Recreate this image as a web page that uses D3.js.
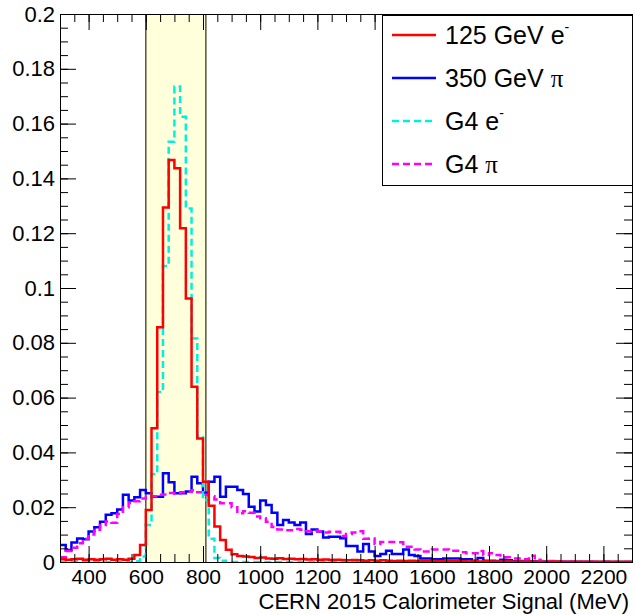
<!DOCTYPE html>
<html>
<head>
<meta charset="utf-8">
<script src="https://cdn.jsdelivr.net/npm/d3@7"></script>
<style>
  body { margin: 0; background: #fff; }
  svg { display: block; }
  text { font-family: "Liberation Sans", Arial, Helvetica, sans-serif; fill: #000; }
</style>
</head>
<body>
<div id="chart"></div>
<script>
// histogram binning: 100 bins of 20 MeV from 300 to 2300
const binEdges = d3.range(300, 2301, 20);

const elec125 = [
  0.0010, 0.0008, 0.0010, 0.0012, 0.0008, 0.0010, 0.0008, 0.0010, 0.0012, 0.0008,
  0.0010, 0.0008, 0.0012, 0.0026, 0.0062, 0.0190, 0.0488, 0.0857, 0.1294, 0.1467,
  0.1437, 0.1218, 0.0962, 0.0640, 0.0451, 0.0293, 0.0205, 0.0130, 0.0080, 0.0045,
  0.0028, 0.0022, 0.0020, 0.0018, 0.0015, 0.0016, 0.0013, 0.0012, 0.0014, 0.0011,
  0.0012, 0.0010, 0.0011, 0.0009, 0.0010, 0.0008, 0.0009, 0.0007, 0.0008, 0.0007,
  0.0006, 0.0007, 0.0006, 0.0005, 0.0006, 0.0005, 0.0006, 0.0005, 0.0004, 0.0005,
  0.0004, 0.0005, 0.0004, 0.0004, 0.0003, 0.0004, 0.0003, 0.0004, 0.0003, 0.0003,
  0.0003, 0.0002, 0.0003, 0.0002, 0.0003, 0.0002, 0.0002, 0.0002, 0.0002, 0.0001,
  0.0002, 0.0001, 0.0002, 0.0001, 0.0001, 0.0001, 0.0002, 0.0001, 0.0001, 0.0001,
  0.0001, 0.0001, 0.0001, 0.0001, 0.0001, 0.0001, 0.0001, 0.0001, 0.0001, 0.0001
];

const pion350 = [
  0.0062, 0.0044, 0.0071, 0.0086, 0.0083, 0.0111, 0.0127, 0.0147, 0.0172, 0.0178,
  0.0192, 0.0245, 0.0224, 0.0236, 0.0263, 0.0251, 0.0238, 0.0238, 0.0324, 0.0291,
  0.0251, 0.0251, 0.0257, 0.0311, 0.0287, 0.0253, 0.0293, 0.0311, 0.0238, 0.0275,
  0.0275, 0.0263, 0.0248, 0.0202, 0.0184, 0.0224, 0.0208, 0.0180, 0.0135, 0.0153,
  0.0144, 0.0135, 0.0144, 0.0102, 0.0119, 0.0111, 0.0089, 0.0092, 0.0092, 0.0087,
  0.0058, 0.0058, 0.0038, 0.0066, 0.0038, 0.0022, 0.0029, 0.0041, 0.0029, 0.0029,
  0.0046, 0.0026, 0.0022, 0.0013, 0.0013, 0.0010, 0.0010, 0.0013, 0.0013, 0.0013,
  0.0010, 0.0010, 0.0005, 0.0015, 0.0005, 0.0005, 0.0004, 0.0008, 0.0006, 0.0003,
  0.0004, 0.0002, 0.0003, 0.0002, 0.0002, 0.0001, 0.0001, 0.0001, 0.0001, 0.0001,
  0.0001, 0.0000, 0.0001, 0.0000, 0.0000, 0.0001, 0.0000, 0.0000, 0.0000, 0.0000
];

const g4Elec = [
  0.0000, 0.0000, 0.0000, 0.0000, 0.0000, 0.0000, 0.0000, 0.0000, 0.0000, 0.0000,
  0.0000, 0.0000, 0.0000, 0.0003, 0.0020, 0.0135, 0.0320, 0.0620, 0.1080, 0.1534,
  0.1735, 0.1625, 0.1290, 0.0816, 0.0460, 0.0226, 0.0085, 0.0015, 0.0005, 0.0000,
  0.0000, 0.0000, 0.0000, 0.0000, 0.0000, 0.0000, 0.0000, 0.0000, 0.0000, 0.0000,
  0.0000, 0.0000, 0.0000, 0.0000, 0.0000, 0.0000, 0.0000, 0.0000, 0.0000, 0.0000,
  0.0000, 0.0000, 0.0000, 0.0000, 0.0000, 0.0000, 0.0000, 0.0000, 0.0000, 0.0000,
  0.0000, 0.0000, 0.0000, 0.0000, 0.0000, 0.0000, 0.0000, 0.0000, 0.0000, 0.0000,
  0.0000, 0.0000, 0.0000, 0.0000, 0.0000, 0.0000, 0.0000, 0.0000, 0.0000, 0.0000,
  0.0000, 0.0000, 0.0000, 0.0000, 0.0000, 0.0000, 0.0000, 0.0000, 0.0000, 0.0000,
  0.0000, 0.0000, 0.0000, 0.0000, 0.0000, 0.0000, 0.0000, 0.0000, 0.0000, 0.0000
];

const g4Pion = [
  0.0017, 0.0040, 0.0052, 0.0068, 0.0085, 0.0100, 0.0118, 0.0135, 0.0148, 0.0143,
  0.0175, 0.0200, 0.0215, 0.0222, 0.0232, 0.0238, 0.0240, 0.0245, 0.0246, 0.0252,
  0.0250, 0.0255, 0.0256, 0.0262, 0.0255, 0.0245, 0.0240, 0.0228, 0.0214, 0.0214,
  0.0200, 0.0178, 0.0185, 0.0180, 0.0166, 0.0160, 0.0147, 0.0128, 0.0119, 0.0116,
  0.0116, 0.0120, 0.0118, 0.0112, 0.0114, 0.0112, 0.0108, 0.0110, 0.0110, 0.0095,
  0.0102, 0.0108, 0.0112, 0.0085, 0.0086, 0.0066, 0.0073, 0.0073, 0.0073, 0.0072,
  0.0056, 0.0056, 0.0046, 0.0038, 0.0038, 0.0046, 0.0046, 0.0046, 0.0041, 0.0041,
  0.0036, 0.0032, 0.0032, 0.0040, 0.0026, 0.0032, 0.0026, 0.0017, 0.0017, 0.0013,
  0.0013, 0.0010, 0.0023, 0.0008, 0.0004, 0.0004, 0.0004, 0.0003, 0.0002, 0.0002,
  0.0002, 0.0001, 0.0001, 0.0001, 0.0001, 0.0001, 0.0000, 0.0000, 0.0000, 0.0000
];

// selection window drawn as shaded band
const windowRange = [600, 810];

const xMajorTicks = [400, 600, 800, 1000, 1200, 1400, 1600, 1800, 2000, 2200];
const yMajorTicks = [0, 0.02, 0.04, 0.06, 0.08, 0.1, 0.12, 0.14, 0.16, 0.18, 0.2];

const series = [
  { name: "350 GeV π", values: pion350, color: "#0000ff", dash: null },
  { name: "G4 π", values: g4Pion, color: "#ff00ff", dash: "7,4" },
  { name: "G4 e-", values: g4Elec, color: "#00f0e0", dash: "7,4" },
  { name: "125 GeV e-", values: elec125, color: "#ff0000", dash: null }
];

function init() {
    const width = 635;
    const height = 615;
    const margin = { top: 14, right: 3, bottom: 53, left: 60 };

    const xScale = d3.scaleLinear().domain([300, 2300]).range([margin.left, width - margin.right]);
    const yScale = d3.scaleLinear().domain([0, 0.2]).range([height - margin.bottom, margin.top]);

    const svg = d3.select("#chart")
        .append("svg")
        .attr("width", width)
        .attr("height", height);

    svg.append("defs").append("clipPath")
        .attr("id", "plot-clip")
        .append("rect")
        .attr("x", margin.left)
        .attr("y", margin.top)
        .attr("width", width - margin.left - margin.right)
        .attr("height", height - margin.top - margin.bottom);

    // yellow band for the signal window
    svg.append("rect")
        .attr("x", xScale(windowRange[0]))
        .attr("y", margin.top)
        .attr("width", xScale(windowRange[1]) - xScale(windowRange[0]))
        .attr("height", height - margin.top - margin.bottom)
        .attr("fill", "#ffffdc");

    windowRange.forEach(v => {
        svg.append("line")
            .attr("x1", xScale(v)).attr("x2", xScale(v))
            .attr("y1", margin.top).attr("y2", height - margin.bottom)
            .attr("stroke", "#55553a")
            .attr("stroke-width", 1.5);
    });

    // step histograms
    const line = d3.line()
        .x(d => xScale(d[0]))
        .y(d => yScale(d[1]))
        .curve(d3.curveStepAfter);

    const plot = svg.append("g").attr("clip-path", "url(#plot-clip)");
    series.forEach(s => {
        const pts = s.values.map((v, i) => [binEdges[i], v]);
        pts.push([binEdges[binEdges.length - 1], s.values[s.values.length - 1]]);
        plot.append("path")
            .datum(pts)
            .attr("d", line)
            .attr("fill", "none")
            .attr("stroke", s.color)
            .attr("stroke-width", 2.5)
            .attr("stroke-dasharray", s.dash);
    });

    // axes, ticks on all four sides pointing inwards
    const xMinor = d3.range(300, 2301, 50);
    const yMinor = d3.range(0, 0.2001, 0.005);
    const bottom = height - margin.bottom;
    const right = width - margin.right;

    function addAxis(axis, transform, size) {
        const g = svg.append("g").attr("transform", transform).call(axis);
        g.select(".domain").remove();
        g.selectAll("text").style("font-size", size || "22px").style("font-family", '"Liberation Sans", Arial, sans-serif');
        return g;
    }

    addAxis(d3.axisBottom(xScale).tickValues(xMinor).tickSize(-8).tickFormat(""), `translate(0,${bottom})`);
    addAxis(d3.axisBottom(xScale).tickValues(xMajorTicks).tickSize(-16).tickPadding(7).tickFormat(d3.format("d")), `translate(0,${bottom})`, "21px");
    addAxis(d3.axisTop(xScale).tickValues(xMinor).tickSize(-8).tickFormat(""), `translate(0,${margin.top})`);
    addAxis(d3.axisTop(xScale).tickValues(xMajorTicks).tickSize(-16).tickFormat(""), `translate(0,${margin.top})`);

    addAxis(d3.axisLeft(yScale).tickValues(yMinor).tickSize(-8).tickFormat(""), `translate(${margin.left},0)`);
    addAxis(d3.axisLeft(yScale).tickValues(yMajorTicks).tickSize(-16).tickPadding(5).tickFormat(d => d === 0 ? "0" : d3.format("")(+d.toFixed(2))), `translate(${margin.left},0)`);
    addAxis(d3.axisRight(yScale).tickValues(yMinor).tickSize(-8).tickFormat(""), `translate(${right},0)`);
    addAxis(d3.axisRight(yScale).tickValues(yMajorTicks).tickSize(-16).tickFormat(""), `translate(${right},0)`);

    // frame
    svg.append("rect")
        .attr("x", margin.left + 0.5)
        .attr("y", margin.top + 0.5)
        .attr("width", right - margin.left)
        .attr("height", bottom - margin.top)
        .attr("fill", "none")
        .attr("stroke", "#000");

    // axis title
    svg.append("text")
        .attr("text-anchor", "end")
        .attr("x", right - 3)
        .attr("y", 609)
        .style("font-size", "22px")
        .text("CERN 2015 Calorimeter Signal (MeV)");

    // legend
    const legend = svg.append("g").attr("class", "legend");
    legend.append("rect")
        .attr("x", 382.5).attr("y", 15.5)
        .attr("width", 250).attr("height", 170)
        .attr("fill", "#fff")
        .attr("stroke", "#000");

    const legendOrder = [series[3], series[0], series[2], series[1]];
    legendOrder.forEach((s, i) => {
        const cy = 35 + i * 43;
        legend.append("line")
            .attr("x1", 392).attr("x2", 436)
            .attr("y1", cy).attr("y2", cy)
            .attr("stroke", s.color)
            .attr("stroke-width", 2.5)
            .attr("stroke-dasharray", s.dash);

        const t = legend.append("text")
            .attr("x", 445)
            .attr("y", cy + 9)
            .style("font-size", "25px");
        if (s.name.endsWith("e-")) {
            t.append("tspan").text(s.name.slice(0, -1));
            t.append("tspan").attr("dy", -12).style("font-size", "14px").text("-");
        } else {
            t.append("tspan").text(s.name.slice(0, -1));
            t.append("tspan").style("font-family", '"Liberation Serif", "DejaVu Serif", serif').text("π");
        }
    });
}

window.onload = init;
</script>
</body>
</html>
